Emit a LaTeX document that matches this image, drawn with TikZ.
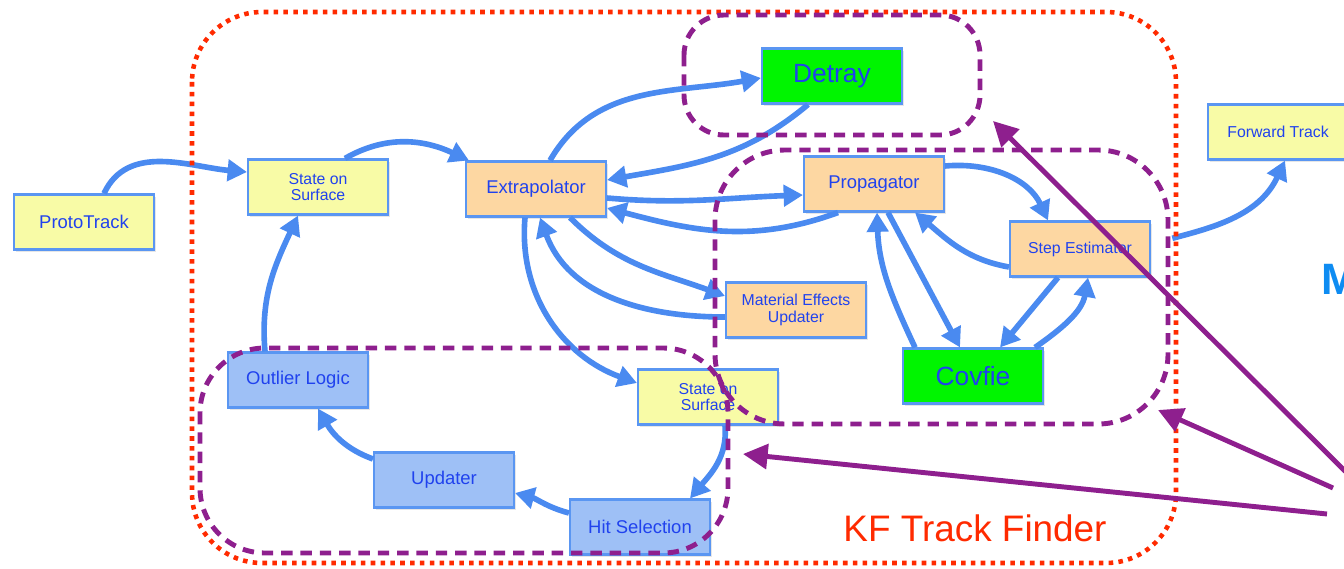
\documentclass[tikz,border=0pt]{standalone}
\usepackage{fontspec}
\setmainfont{Liberation Sans}
\usetikzlibrary{arrows.meta,calc,shadows}

\definecolor{txtblue}{HTML}{2042EE}
\definecolor{arrblue}{HTML}{4A8AF0}
\definecolor{edgeblue}{HTML}{5A96F2}
\definecolor{boxyellow}{HTML}{F8FBA6}
\definecolor{boxorange}{HTML}{FDD7A2}
\definecolor{boxgreen}{HTML}{00F500}
\definecolor{boxblue}{HTML}{9EC0F6}
\definecolor{kfred}{HTML}{FF2A00}
\definecolor{grpurple}{HTML}{8E1F8E}
\definecolor{mblue}{HTML}{0E8CF2}

\newcommand{\normsize}{\fontsize{10.5}{12}\selectfont}
\newcommand{\smallsize}{\fontsize{9}{9.6}\selectfont}
\newcommand{\bigsize}{\fontsize{15}{17}\selectfont}

\tikzset{
  block/.style={draw=edgeblue, line width=1.2pt, minimum width=2.8cm, minimum height=1.1cm,
    align=center, text=txtblue, inner sep=1pt, font=\normsize,
    drop shadow={opacity=0.2, shadow xshift=1.2pt, shadow yshift=-1.5pt}},
  yellowbox/.style={block, fill=boxyellow},
  orangebox/.style={block, fill=boxorange},
  greenbox/.style={block, fill=boxgreen, font=\bigsize},
  bluebox/.style={block, fill=boxblue},
  flow/.style={draw=arrblue, line width=3.2pt, -{Triangle[length=11pt,width=12pt]}},
  kfdots/.style={draw=kfred, line width=2.6pt, dash pattern=on 2.6pt off 3pt, rounded corners=1.4cm},
  group/.style={draw=grpurple, line width=2.8pt, dash pattern=on 6.5pt off 4.5pt},
  pointer/.style={draw=grpurple, line width=2.8pt, -{Triangle[length=14pt,width=14pt]}}
}

\begin{document}
\begin{tikzpicture}[x=0.02cm, y=0.02cm]
  \useasboundingbox (0,0) rectangle (1344,-568);

  % boxes
  \node[yellowbox] (proto) at (84,-222) {ProtoTrack};
  \node[yellowbox, font=\smallsize] (sos1) at (318,-187) {State on\\Surface};
  \node[orangebox] (extrap) at (536,-189) {Extrapolator};
  \node[greenbox] (detray) at (832,-76) {Detray};
  \node[orangebox] (prop) at (874,-184) {Propagator};
  \node[yellowbox, font=\smallsize] (fwd) at (1278,-132) {Forward Track};
  \node[orangebox, font=\smallsize] (step) at (1080,-249) {Step Estimator};
  \node[orangebox, font=\smallsize] (mat) at (796,-310) {Material Effects\\Updater};
  \node[greenbox] (covfie) at (973,-376) {Covfie};
  \node[bluebox] (outlier) at (298,-380) {Outlier Logic};
  \node[yellowbox, font=\smallsize] (sos2) at (708,-397) {State on\\Surface};
  \node[bluebox] (upd) at (444,-480) {Updater};
  \node[bluebox] (hit) at (640,-527) {Hit Selection};

  % flows
  \draw[flow] ($(proto.north)+(20,0)$) to[out=65,in=175] ($(sos1.west)+(0,15)$);
  \draw[flow] ($(outlier.north)+(-33,0)$) to[out=95,in=-115] ($(sos1.south)+(-20,0)$);
  \draw[flow] ($(sos1.north)+(27,0)$) to[out=30,in=155] ($(extrap.north west)+(4,0)$);
  \draw[flow] ($(extrap.north)+(14,0)$) to[out=60,in=190] ($(detray.west)+(0,-2)$);
  \draw[flow] ($(detray.south)+(-24,0)$) to[out=-140,in=10] ($(extrap.east)+(0,9)$);
  \draw[flow] ($(extrap.east)+(0,-9)$) to[out=-5,in=182] ($(prop.west)+(0,-11)$);
  \draw[flow] ($(prop.south)+(-36,0)$) to[out=200,in=-15] ($(extrap.east)+(0,-19)$);
  \draw[flow] ($(extrap.south)+(34,0)$) to[out=-45,in=160] ($(mat.west)+(0,14)$);
  \draw[flow] ($(mat.west)+(0,-7)$) to[out=180,in=-70] ($(extrap.south)+(4,0)$);
  \draw[flow] ($(extrap.south)+(-11,0)$) to[out=-95,in=160] ($(sos2.west)+(0,14)$);
  \draw[flow] ($(sos2.south)+(17,0)$) to[out=-85,in=50] ($(hit.north)+(50,0)$);
  \draw[flow] ($(hit.west)+(0,14)$) to[out=165,in=-15] ($(upd.east)+(0,-13)$);
  \draw[flow] ($(upd.west)+(0,21)$) to[out=160,in=-60] ($(outlier.south)+(20,0)$);
  \draw[flow] ($(prop.east)+(0,18)$) to[out=5,in=115] ($(step.north)+(-32,0)$);
  \draw[flow] ($(step.west)+(0,-18)$) to[out=170,in=-40] ($(prop.south)+(41,0)$);
  \draw[flow] ($(prop.south)+(14,0)$) -- ($(covfie.north)+(-13,0)$);
  \draw[flow] ($(covfie.north)+(-58,0)$) to[out=115,in=-88] ($(prop.south)+(3,0)$);
  \draw[flow] ($(step.south)+(-22,0)$) -- ($(covfie.north)+(27,0)$);
  \draw[flow] ($(covfie.north)+(62,0)$) to[out=35,in=-100] ($(step.south)+(8,0)$);
  \draw[flow, shorten <=0.44cm] ($(step.east)+(0,5)$) to[out=15,in=-115] ($(fwd.south)+(7,0)$);

  % groups
  \draw[kfdots] (192,-12) rectangle (1176,-563);
  \draw[group, rounded corners=0.8cm] (684,-15) rectangle (980,-135);
  \draw[group, rounded corners=1.4cm] (715,-150) rectangle (1168,-424);
  \draw[group, rounded corners=1.3cm] (200,-348) rectangle (728,-553);

  \node[text=kfred, font=\fontsize{21}{24}\selectfont] (kflabel) at (975,-528) {KF Track Finder};
  \node[text=mblue, font=\fontsize{25}{28}\selectfont\bfseries, anchor=west, inner sep=0pt] (mlabel) at (1321,-279) {M};

  % pointers
  \coordinate (feedA) at (1352,-478);
  \coordinate (hitA) at (993,-121);
  \coordinate (feedB) at (1333,-488);
  \coordinate (hitB) at (1158,-410);
  \coordinate (feedC) at (1327,-514);
  \coordinate (hitC) at (743,-454);
  \draw[pointer] (feedA) -- (hitA);
  \draw[pointer] (feedB) -- (hitB);
  \draw[pointer] (feedC) -- (hitC);
\end{tikzpicture}
\end{document}
